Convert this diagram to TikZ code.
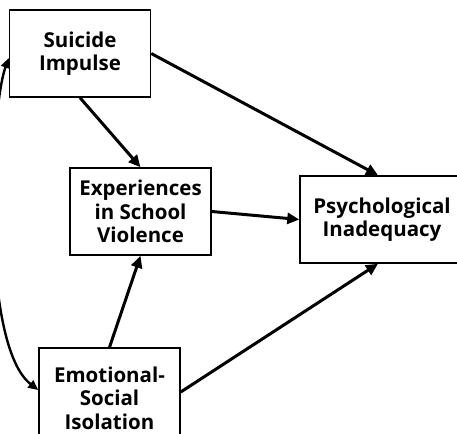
\documentclass[tikz,border=0pt]{standalone}
\usepackage{fontspec}
\setmainfont{Open Sans}
\usetikzlibrary{arrows.meta}
\begin{document}
\begin{tikzpicture}[x=1pt,y=-1pt,
  box/.style={draw, line width=1.5pt, minimum width=141pt, minimum height=87pt,
    inner sep=0pt, align=center, font=\fontsize{20.5}{23.5}\selectfont\bfseries},
  link/.style={line width=3pt, -{Triangle[length=12pt,width=11pt]}},
  twoway/.style={line width=2.4pt, {Triangle[length=10pt,width=9pt]}-{Triangle[length=10pt,width=9pt]}}]
\clip (0,0) rectangle (457,433);
\node[box] (sui) at (80,53.5) {Suicide\\Impulse};
\node[box] (exp) at (140.5,211.5) {Experiences\\in School\\Violence};
\node[box, minimum height=100pt] (emo) at (109.5,398) {Emotional-\\Social\\Isolation};
\node[box, minimum width=164pt] (psy) at (382,219.5) {Psychological\\Inadequacy};
\draw[link] (sui.south) -- (exp.north);
\draw[link] (sui.east) -- ([xshift=-4pt]psy.north);
\draw[link] (exp.east) -- (psy.west);
\draw[link] (emo.north) -- (exp.south);
\draw[link] ([yshift=6pt]emo.east) -- ([xshift=-4pt]psy.south);
\draw[twoway] ([yshift=-4.5pt]sui.west) .. controls (-10,110) and (-20,345) .. ([yshift=8pt]emo.west);
\end{tikzpicture}
\end{document}
